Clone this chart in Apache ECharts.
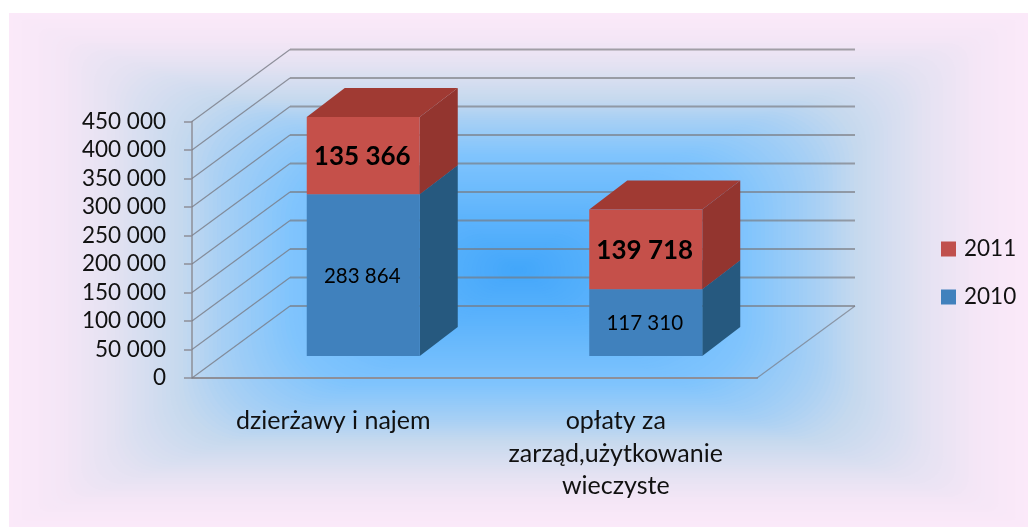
<!DOCTYPE html>
<html>
<head>
<meta charset="utf-8">
<title>dzierżawy i opłaty</title>
<style>
  html, body { margin: 0; padding: 0; background: #fff; }
  #main { width: 1028px; height: 527px; }
</style>
<script src="https://cdn.jsdelivr.net/npm/echarts@6/dist/echarts.min.js"></script>
</head>
<body>
<div id="main"></div>
<script>
var categories = ['dzierżawy i najem', 'opłaty za\nzarząd,użytkowanie\nwieczyste'];
var values2010 = [283864, 117310];
var values2011 = [135366, 139718];
var yTicks = [0, 50000, 100000, 150000, 200000, 250000, 300000, 350000, 400000, 450000];

var font = 'Lato, sans-serif';
var wallDepth = [98, -72];     // back wall offset from the front of the floor
var barShift = [30, -22];      // bars stand a bit inside the floor
var barDepth = [38, -29];
var panel = { x: 9, y: 13, w: 1019, h: 514 };

function fmt(v) {
  return String(v).replace(/\B(?=(\d{3})+$)/g, ' ');
}

// rectangular gradient: nested rects going from the pink edge to the blue middle
function panelRects() {
  var stops = [
    [0, '#fbe9f9'], [0.1, '#f4e6f6'], [0.2, '#e4e2f2'], [0.33, '#c6d9ee'],
    [0.42, '#a5cff5'], [0.55, '#80c4fd'], [0.8, '#5cb3fc'], [1, '#42a6fa']
  ];
  function colorAt(t) {
    for (var i = 1; i < stops.length; i++) {
      if (t <= stops[i][0]) {
        var k = (t - stops[i - 1][0]) / (stops[i][0] - stops[i - 1][0]);
        return echarts.color.lerp(k, [stops[i - 1][1], stops[i][1]]);
      }
    }
    return stops[stops.length - 1][1];
  }
  var rects = [];
  var n = 120;
  for (var i = 0; i < n; i++) {
    var t = i / n;
    rects.push({
      type: 'rect', silent: true, z: -10, zlevel: 0,
      shape: {
        x: panel.x + t * panel.w / 2,
        y: panel.y + t * panel.h / 2,
        width: panel.w * (1 - t),
        height: panel.h * (1 - t),
        r: Math.min(70, t * 170)
      },
      style: { fill: colorAt(t) }
    });
  }
  return rects;
}

function renderWall(params, api) {
  var sys = params.coordSys;
  var p = api.coord([0, api.value(0)]);
  var x0 = sys.x, x1 = sys.x + sys.width, y = p[1];
  var bx = x0 + wallDepth[0], by = y + wallDepth[1], rx = x1 + wallDepth[0];
  var children = [
    { type: 'line', shape: { x1: x0, y1: y, x2: bx, y2: by }, style: { stroke: 'rgba(120,122,132,0.8)', lineWidth: 1.2 } },
    { type: 'line', shape: { x1: bx, y1: by, x2: rx, y2: by }, style: { stroke: 'rgba(120,120,125,0.65)', lineWidth: 2 } }
  ];
  // floor gets its right hand edge as well
  if (api.value(0) === 0) {
    children.push({ type: 'line', shape: { x1: rx, y1: by, x2: x1, y2: y }, style: { stroke: 'rgba(120,122,132,0.7)', lineWidth: 1.2 } });
  }
  return { type: 'group', silent: true, children: children };
}

function makeRenderBar(front, side, top, labelFont) {
  return function (params, api) {
    var cat = api.value(0), start = api.value(1), end = api.value(2);
    var a = api.coord([cat, start]);
    var b = api.coord([cat, end]);
    var w = api.size([1, 0])[0] * 0.4;
    var x0 = a[0] - w / 2 + barShift[0], x1 = x0 + w;
    var y0 = a[1] + barShift[1], y1 = b[1] + barShift[1];
    var dx = barDepth[0], dy = barDepth[1];
    return {
      type: 'group',
      children: [
        { type: 'polygon', shape: { points: [[x1, y0], [x1 + dx, y0 + dy], [x1 + dx, y1 + dy], [x1, y1]] }, style: { fill: side } },
        { type: 'polygon', shape: { points: [[x0, y1], [x1, y1], [x1 + dx, y1 + dy], [x0 + dx, y1 + dy]] }, style: { fill: top } },
        { type: 'rect', shape: { x: x0, y: y1, width: w, height: y0 - y1 }, style: { fill: front } },
        {
          type: 'text',
          style: {
            x: (x0 + x1) / 2 - 1, y: (y0 + y1) / 2 + 1,
            text: fmt(end - start),
            align: 'center', verticalAlign: 'middle',
            font: labelFont, fill: '#000'
          }
        }
      ]
    };
  };
}

var data2010 = categories.map(function (c, i) { return [i, 0, values2010[i]]; });
var data2011 = categories.map(function (c, i) { return [i, values2010[i], values2010[i] + values2011[i]]; });

var myChart = echarts.init(document.getElementById('main'), null, { renderer: 'canvas' });
var option = {
  animation: false,
  backgroundColor: '#fff',
  textStyle: { fontFamily: font },
  graphic: panelRects(),
  legend: {
    data: ['2011', '2010'],
    orient: 'vertical',
    left: 941, top: 236,
    padding: 0,
    icon: 'rect',
    itemWidth: 15, itemHeight: 15, itemGap: 22, selectedMode: false,
    textStyle: { fontSize: 22.5, lineHeight: 26, color: '#111', fontFamily: font, padding: [0, 0, 0, 3] }
  },
  grid: { left: 192, right: 271, top: 121.5, bottom: 149 },
  xAxis: {
    type: 'category',
    data: categories,
    axisLine: { lineStyle: { color: '#8e8f98', width: 2 } },
    axisTick: { length: 8, lineStyle: { color: '#8e8f98', width: 1.5 } },
    axisLabel: { color: '#111', fontSize: 25, lineHeight: 32.5, margin: 27, fontFamily: font }
  },
  yAxis: {
    type: 'value',
    min: 0, max: 450000, interval: 50000,
    splitLine: { show: false },
    axisLine: { show: true, lineStyle: { color: '#8e8f98', width: 1.5 } },
    axisTick: { show: true, length: 8, lineStyle: { color: '#8e8f98', width: 1.5 } },
    axisLabel: { color: '#111', fontSize: 22.5, margin: 26, padding: [7, 0, 0, 0], fontFamily: font, formatter: fmt }
  },
  series: [
    {
      type: 'custom', name: 'wall', z: 1,
      renderItem: renderWall,
      encode: { y: 0 },
      data: yTicks.map(function (v) { return [v]; })
    },
    {
      type: 'custom', name: '2010', z: 2,
      itemStyle: { color: '#4081bd' },
      renderItem: makeRenderBar('#4081bd', '#26597f', '#2b5f88', '20.5px ' + font),
      encode: { x: 0, y: [1, 2] },
      data: data2010
    },
    {
      type: 'custom', name: '2011', z: 3,
      itemStyle: { color: '#c0504d' },
      renderItem: makeRenderBar('#c5504a', '#93352f', '#a03a33', 'bold 26px ' + font),
      encode: { x: 0, y: [1, 2] },
      data: data2011
    }
  ]
};
option && myChart.setOption(option);
</script>
</body>
</html>
